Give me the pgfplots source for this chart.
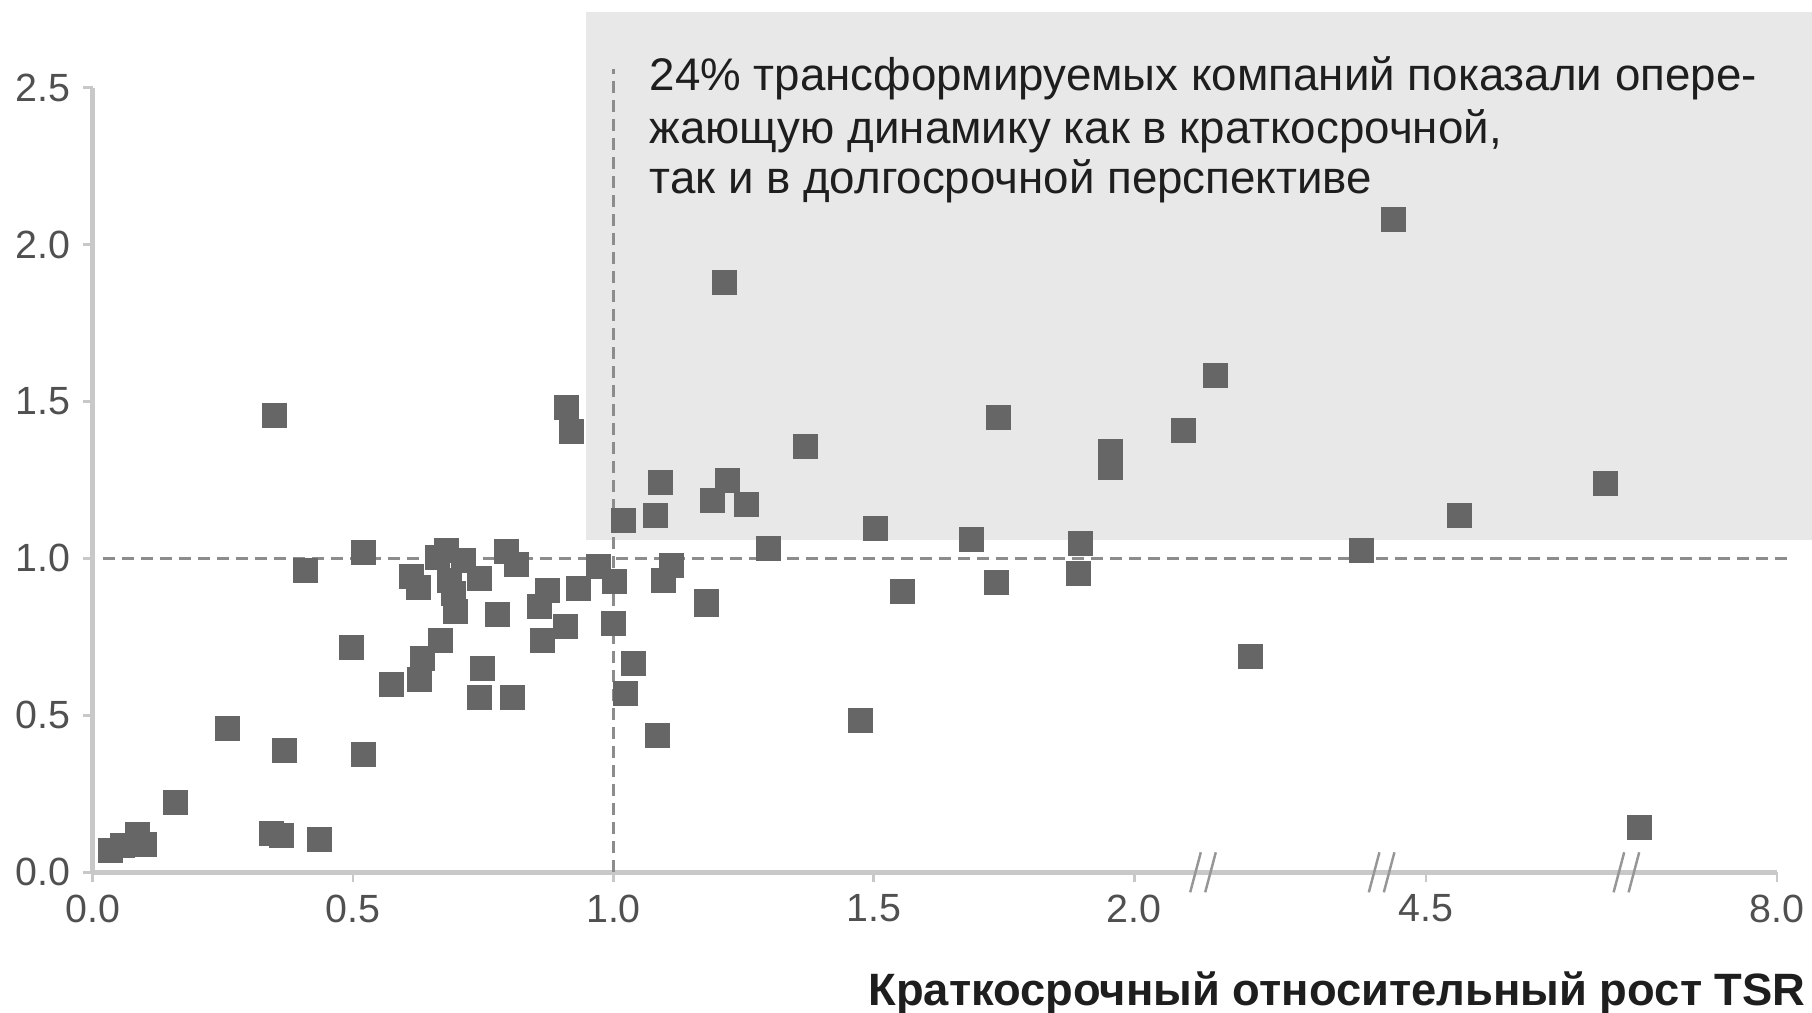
\documentclass[border=0pt]{standalone}
\usepackage{fontspec}
\setmainfont{Liberation Sans}
\usepackage{pgfplots}
\pgfplotsset{compat=1.18}
\definecolor{markc}{RGB}{102,102,102}
\definecolor{boxc}{RGB}{232,232,232}
\definecolor{axc}{RGB}{200,200,200}
\definecolor{dashc}{RGB}{140,140,140}
\definecolor{tickc}{RGB}{80,80,80}
\definecolor{brkc}{RGB}{150,150,150}
\definecolor{txtc}{RGB}{30,30,30}
\begin{document}
\begin{tikzpicture}
\begin{axis}[
  scale only axis,
  width=168.42mm, height=78.475mm,
  xmin=0, xmax=3.234, ymin=0, ymax=2.5,
  axis x line*=bottom, axis y line*=left,
  axis line style={draw=axc, line width=1.3pt, -},
  xtick={0,0.5,1,1.5,2,2.560,3.234},
  xticklabels={0.0,0.5,1.0,1.5,2.0,4.5,8.0},
  ytick={0,0.5,1,1.5,2,2.5},
  yticklabels={0.0,0.5,1.0,1.5,2.0,2.5},
  tick align=outside,
  major tick length=1mm,
  tick style={draw=axc, line width=0.8pt},
  ticklabel style={font=\fontsize{11.2}{13}\selectfont, text=tickc},
  clip=false,
]
% shaded quadrant
\fill[boxc] (axis cs:0.947,1.058) rectangle (axis cs:3.301,2.742);
% reference lines
\draw[dashc, line width=0.8pt, dash pattern=on 1.2mm off 0.7mm] (axis cs:0.02,1) -- (axis cs:3.257,1);
\draw[dashc, line width=0.6pt, dash pattern=on 1.2mm off 0.7mm] (axis cs:1,0) -- (axis cs:1,2.559);
% axis breaks
\draw[brkc, line width=0.7pt] ([shift={(-1.28mm,-2mm)}]axis cs:2.132,0) -- ++(1.06mm,4mm);
\draw[brkc, line width=0.7pt] ([shift={(0.22mm,-2mm)}]axis cs:2.132,0) -- ++(1.06mm,4mm);
\draw[brkc, line width=0.7pt] ([shift={(-1.28mm,-2mm)}]axis cs:2.475,0) -- ++(1.06mm,4mm);
\draw[brkc, line width=0.7pt] ([shift={(0.22mm,-2mm)}]axis cs:2.475,0) -- ++(1.06mm,4mm);
\draw[brkc, line width=0.7pt] ([shift={(-1.28mm,-2mm)}]axis cs:2.945,0) -- ++(1.06mm,4mm);
\draw[brkc, line width=0.7pt] ([shift={(0.22mm,-2mm)}]axis cs:2.945,0) -- ++(1.06mm,4mm);

\addplot[only marks, mark=square*, mark size=1.2mm,
  mark options={fill=markc, draw=markc, line width=0.1pt}] coordinates {
(0.033,0.069) (0.057,0.088) (0.086,0.121) (0.099,0.091) (0.159,0.224)
(0.259,0.459) (0.343,0.124) (0.361,0.117) (0.368,0.390) (0.434,0.106)
(0.348,1.457) (0.408,0.964) (0.497,0.717) (0.519,0.375) (0.519,1.019)
(0.574,0.599) (0.612,0.942) (0.625,0.909) (0.661,1.004) (0.679,1.027)
(0.712,0.993) (0.685,0.931) (0.692,0.890) (0.696,0.831) (0.743,0.938)
(0.794,1.023) (0.814,0.982) (0.667,0.739) (0.632,0.681) (0.627,0.614)
(0.747,0.651) (0.743,0.559) (0.805,0.559) (0.776,0.821) (0.858,0.847)
(0.872,0.898) (0.863,0.739) (0.907,0.783) (0.932,0.905) (0.971,0.975)
(0.909,1.483) (0.918,1.406) (1.002,0.927) (1.000,0.795) (1.038,0.666)
(1.022,0.570) (1.084,0.437) (1.096,0.931) (1.111,0.979) (1.178,0.864)
(1.178,0.854) (1.018,1.122) (1.080,1.137) (1.089,1.244) (1.189,1.185)
(1.218,1.248) (1.255,1.174) (1.213,1.881) (1.297,1.034) (1.368,1.358)
(1.473,0.485) (1.502,1.096) (1.555,0.894) (1.686,1.060) (1.735,0.923)
(1.739,1.450) (1.892,0.953) (1.896,1.049) (1.954,1.292) (1.954,1.340)
(2.094,1.410) (2.156,1.583) (2.223,0.688) (2.436,1.027) (2.498,2.080)
(2.624,1.137) (2.904,1.240) (2.970,0.143)
};

\node[anchor=base west, font=\fontsize{13}{15}\selectfont, text=txtc, inner sep=0pt] at (axis cs:1.068,2.490) {24\% трансформируемых компаний показали опере-};
\node[anchor=base west, font=\fontsize{13}{15}\selectfont, text=txtc, inner sep=0pt] at (axis cs:1.068,2.323) {жающую динамику как в краткосрочной,};
\node[anchor=base west, font=\fontsize{13}{15}\selectfont, text=txtc, inner sep=0pt] at (axis cs:1.068,2.163) {так и в долгосрочной перспективе};
\node[anchor=base east, font=\bfseries\fontsize{12.9}{15}\selectfont, text=txtc, inner sep=0pt] at (axis cs:3.290,-0.4228) {Краткосрочный относительный рост TSR};
\end{axis}
\pgfresetboundingbox
\path ([shift={(-9.27mm,-14.07mm)}]current axis.south west) rectangle ++(181.2mm,101.3mm);
\end{tikzpicture}
\end{document}
